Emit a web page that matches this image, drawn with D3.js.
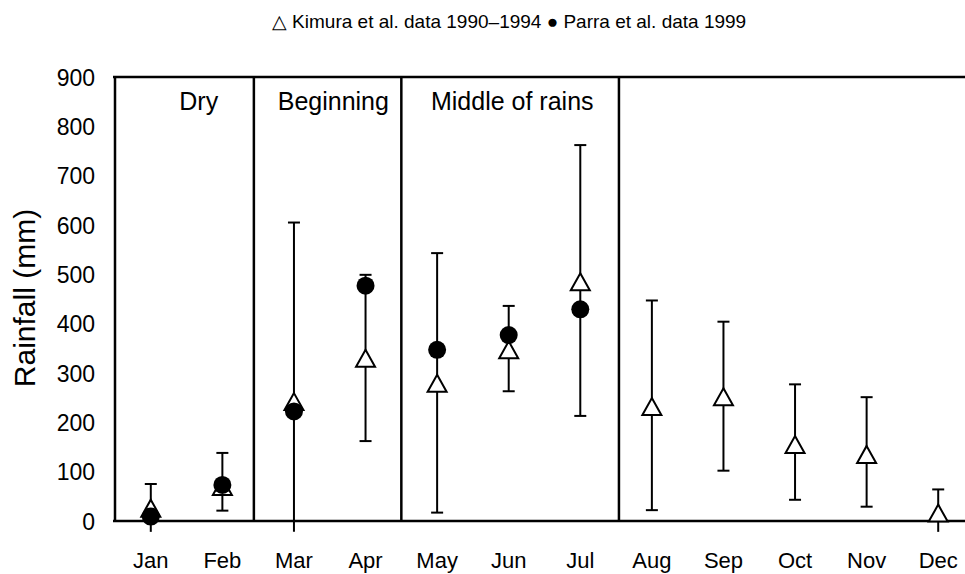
<!DOCTYPE html>
<html>
<head>
<meta charset="utf-8">
<script src="https://cdn.jsdelivr.net/npm/d3@7"></script>
<style>
  body { margin: 0; background: #fff; }
  svg text { font-family: "Liberation Sans", Arial, sans-serif; fill: #000; }
</style>
</head>
<body>
<div id="chart"></div>
<script>
    // values
    const months = ["Jan", "Feb", "Mar", "Apr", "May", "Jun", "Jul", "Aug", "Sep", "Oct", "Nov", "Dec"];
    const kimuraMean = [26, 70, 242, 330, 279, 347, 485, 232, 252, 155, 135, 16];
    const kimuraLow = [-22, 21, -22, 162, 17, 263, 213, 22, 102, 43, 29, -22];
    const kimuraHigh = [75, 138, 605, 499, 543, 436, 762, 447, 404, 277, 251, 64];
    const parraMonths = ["Jan", "Feb", "Mar", "Apr", "May", "Jun", "Jul"];
    const parraMean = [9, 73, 222, 477, 347, 377, 429];
    const yTicks = [0, 100, 200, 300, 400, 500, 600, 700, 800, 900];
    // season boundaries, in month-width units from the left edge
    const seasonBreaks = [1.94, 4.0, 7.04];
    const seasonNames = ["Dry", "Beginning", "Middle of rains"];
    const seasonLabelAt = [1.17, 3.05, 5.55];

    const W = 965, H = 574;
    const plotL = 115, plotT = 77, plotB = 521, plotR = 974;

    const svg = d3.select("#chart").append("svg")
        .attr("width", W)
        .attr("height", H);

    const x = d3.scaleBand().domain(months).range([plotL, plotR]).padding(0);
    const xu = d3.scaleLinear().domain([0, 12]).range([plotL, plotR]);
    const y = d3.scaleLinear().domain([0, 900]).range([plotB, plotT]);
    const cx = m => x(m) + x.bandwidth() / 2;

    // legend
    svg.append("text")
        .attr("x", 509).attr("y", 28)
        .attr("text-anchor", "middle")
        .style("font-size", "19px")
        .text("\u25B3 Kimura et al. data 1990\u20131994 \u25CF Parra et al. data 1999");

    // y axis
    const yAxis = svg.append("g")
        .attr("transform", "translate(" + plotL + ",0)")
        .call(d3.axisLeft(y).tickValues(yTicks).tickSize(0).tickPadding(20));
    yAxis.select(".domain").remove();
    yAxis.selectAll("text").style("font-size", "23px").attr("dy", "0.36em");

    svg.append("text")
        .attr("transform", "translate(35,298) rotate(-90)")
        .attr("text-anchor", "middle")
        .style("font-size", "30px")
        .text("Rainfall (mm)");

    // x labels
    svg.append("g").selectAll("text")
        .data(months)
        .enter().append("text")
        .attr("x", d => cx(d))
        .attr("y", 568)
        .attr("text-anchor", "middle")
        .style("font-size", "22px")
        .text(d => d);

    // frame
    const frame = svg.append("g").attr("stroke", "#000").attr("stroke-width", 2.5);
    frame.append("line").attr("x1", plotL - 2).attr("x2", W).attr("y1", plotT).attr("y2", plotT);
    frame.append("line").attr("x1", plotL - 2).attr("x2", W).attr("y1", plotB).attr("y2", plotB);
    frame.append("line").attr("x1", plotL).attr("x2", plotL).attr("y1", plotT).attr("y2", plotB);
    frame.selectAll(".brk")
        .data(seasonBreaks)
        .enter().append("line")
        .attr("x1", d => xu(d)).attr("x2", d => xu(d))
        .attr("y1", plotT).attr("y2", plotB);

    svg.append("g").selectAll("text")
        .data(seasonNames)
        .enter().append("text")
        .attr("x", (d, i) => xu(seasonLabelAt[i]))
        .attr("y", 110)
        .attr("text-anchor", "middle")
        .style("font-size", "25px")
        .text(d => d);

    // error bars (Kimura)
    const bars = svg.append("g").attr("stroke", "#000").attr("stroke-width", 2);
    months.forEach(function (m, i) {
        bars.append("line")
            .attr("x1", cx(m)).attr("x2", cx(m))
            .attr("y1", y(kimuraLow[i])).attr("y2", y(kimuraHigh[i]));
        bars.append("line")
            .attr("x1", cx(m) - 6).attr("x2", cx(m) + 6)
            .attr("y1", y(kimuraHigh[i])).attr("y2", y(kimuraHigh[i]));
        if (kimuraLow[i] >= 0) {
            bars.append("line")
                .attr("x1", cx(m) - 6).attr("x2", cx(m) + 6)
                .attr("y1", y(kimuraLow[i])).attr("y2", y(kimuraLow[i]));
        }
    });

    // triangles (Kimura)
    svg.append("g").selectAll("path")
        .data(kimuraMean)
        .enter().append("path")
        .attr("d", "M0,-8.5L9.5,8.5L-9.5,8.5Z")
        .attr("transform", (d, i) => "translate(" + cx(months[i]) + "," + y(d) + ")")
        .attr("fill", "#fff")
        .attr("stroke", "#000")
        .attr("stroke-width", 2);

    // circles (Parra)
    svg.append("g").selectAll("circle")
        .data(parraMean)
        .enter().append("circle")
        .attr("cx", (d, i) => cx(parraMonths[i]))
        .attr("cy", d => y(d))
        .attr("r", 9)
        .attr("fill", "#000");
</script>
</body>
</html>
